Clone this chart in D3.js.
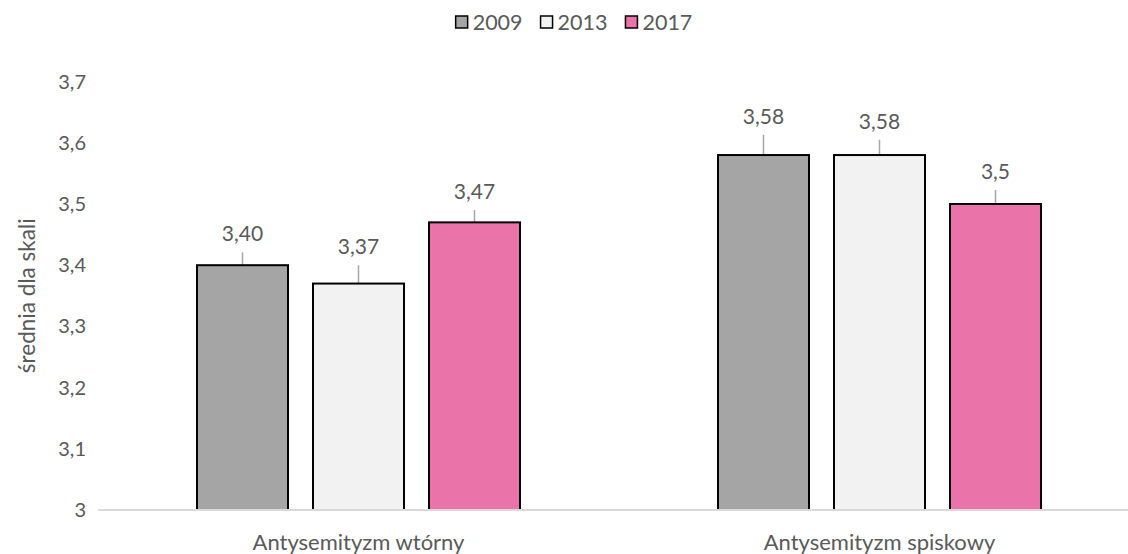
<!DOCTYPE html>
<html>
<head>
<meta charset="utf-8">
<script src="https://cdn.jsdelivr.net/npm/d3@7"></script>
<style>
  body { margin: 0; background: #fff; }
  text { font-family: Lato, "Open Sans", sans-serif; fill: #595959; }
</style>
</head>
<body>
<div id="chart"></div>
<script>
// Srednie skal antysemityzmu 2009 / 2013 / 2017

// ==========================================================
// Data
var categories = ["Antysemityzm wtórny", "Antysemityzm spiskowy"];
var years = ["2009", "2013", "2017"];
var values2009 = [3.40, 3.58];
var values2013 = [3.37, 3.58];
var values2017 = [3.47, 3.50];
var errors2009 = [0.021, 0.033];
var errors2013 = [0.030, 0.025];
var errors2017 = [0.020, 0.023];
var labels2009 = ["3,40", "3,58"];
var labels2013 = ["3,37", "3,58"];
var labels2017 = ["3,47", "3,5"];
var yTicks = [3, 3.1, 3.2, 3.3, 3.4, 3.5, 3.6, 3.7];
var yTitle = "średnia dla skali";
var colors = ["#A5A5A5", "#F2F2F2", "#EA73A9"];

// ==========================================================
// Set margins
var svgWidth = 1128;
var svgHeight = 554;

var plot = { left: 98, right: 1140, top: 81.6, bottom: 510 };

var svg = d3.select("#chart")
  .append("svg")
  .attr("width", svgWidth)
  .attr("height", svgHeight);

// flatten series into rows
var series = [
  { year: years[0], values: values2009, errors: errors2009, labels: labels2009 },
  { year: years[1], values: values2013, errors: errors2013, labels: labels2013 },
  { year: years[2], values: values2017, errors: errors2017, labels: labels2017 }
];
var rows = [];
categories.forEach(function(cat, i) {
  series.forEach(function(s) {
    rows.push({ cat: cat, year: s.year, value: s.values[i], err: s.errors[i], label: s.labels[i] });
  });
});

// scales
var x0 = d3.scaleBand()
  .domain(categories)
  .range([plot.left, plot.right])
  .paddingInner(0.38)
  .paddingOuter(0.19);

var x1 = d3.scaleBand()
  .domain(years)
  .range([0, x0.bandwidth()])
  .paddingInner(0.2155);

var y = d3.scaleLinear()
  .domain([3, 3.7])
  .range([plot.bottom, plot.top]);

var color = d3.scaleOrdinal().domain(years).range(colors);

// y axis labels (no line)
var yAxis = d3.axisLeft(y)
  .tickValues(yTicks)
  .tickSize(0)
  .tickPadding(12)
  .tickFormat(function(d) { return d3.format(".1~f")(d).replace(".", ","); });

svg.append("g")
  .attr("transform", "translate(" + plot.left + ",0)")
  .call(yAxis)
  .call(function(g) { g.select(".domain").remove(); })
  .selectAll("text")
  .attr("font-size", 20)
  .attr("font-family", "Lato, sans-serif")
  .attr("fill", "#595959");

// y title
svg.append("text")
  .attr("transform", "rotate(-90)")
  .attr("x", -(plot.top + plot.bottom) / 2)
  .attr("y", 27)
  .attr("dy", "0.35em")
  .attr("text-anchor", "middle")
  .attr("font-size", 22.5)
  .text(yTitle);

// bars
var groups = svg.append("g").selectAll("g")
  .data(rows)
  .enter()
  .append("g")
  .attr("transform", function(d) { return "translate(" + (x0(d.cat) + x1(d.year)) + ",0)"; });

// error bars (only upper half visible, lower is covered by bar)
groups.append("line")
  .attr("x1", x1.bandwidth() / 2)
  .attr("x2", x1.bandwidth() / 2)
  .attr("y1", function(d) { return y(d.value - d.err); })
  .attr("y2", function(d) { return y(d.value + d.err); })
  .attr("stroke", "#A6A6A6")
  .attr("stroke-width", 1.5);

groups.append("rect")
  .attr("x", 0)
  .attr("y", function(d) { return y(d.value); })
  .attr("width", x1.bandwidth())
  .attr("height", function(d) { return y(3) - y(d.value); })
  .attr("fill", function(d) { return color(d.year); })
  .attr("stroke", "#000")
  .attr("stroke-width", 2);

// data labels
groups.append("text")
  .attr("x", x1.bandwidth() / 2)
  .attr("y", function(d) { return y(d.value + d.err) - 11; })
  .attr("text-anchor", "middle")
  .attr("font-size", 21)
  .text(function(d) { return d.label; });

// x axis line
svg.append("line")
  .attr("x1", plot.left)
  .attr("x2", plot.right)
  .attr("y1", y(3))
  .attr("y2", y(3))
  .attr("stroke", "#D9D9D9")
  .attr("stroke-width", 2);

// category labels
svg.append("g").selectAll("text")
  .data(categories)
  .enter()
  .append("text")
  .attr("x", function(d) { return x0(d) + x0.bandwidth() / 2; })
  .attr("y", 542)
  .attr("dy", "0.35em")
  .attr("text-anchor", "middle")
  .attr("font-size", 22)
  .text(function(d) { return d; });

// legend
var legend = svg.append("g");
var items = legend.selectAll("g")
  .data(years)
  .enter()
  .append("g");

items.append("rect")
  .attr("width", 12)
  .attr("height", 12)
  .attr("y", -6)
  .attr("fill", function(d) { return color(d); })
  .attr("stroke", "#000")
  .attr("stroke-width", 1.5);

items.append("text")
  .attr("x", 17)
  .attr("dy", "0.35em")
  .attr("font-size", 21.5)
  .text(function(d) { return d; });

var cursor = 0;
items.each(function() {
  var w = this.getBBox().width;
  d3.select(this).attr("transform", "translate(" + cursor + ",0)");
  cursor += w + 18;
});
var legendW = cursor - 18;
legend.attr("transform", "translate(" + (574 - legendW / 2) + ",22)");
</script>
</body>
</html>
